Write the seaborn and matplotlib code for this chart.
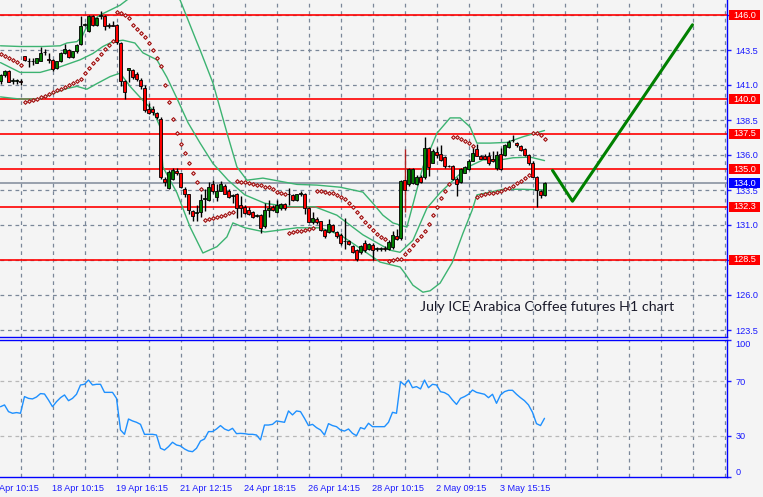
import numpy as np
import pandas as pd
import matplotlib
matplotlib.use('Agg')
import matplotlib.pyplot as plt
import matplotlib.transforms as mtransforms
from matplotlib.patches import Rectangle
import seaborn as sns

# ---- candles (H1 bars) ----
opens = [141.3, 141.75, 142.0, 141.3, 141.3, 141.3, 143.05, 142.7, 142.7, 142.6,
         142.75, 143.35, 142.85, 142.8, 142.2, 142.7, 143.3, 143.5, 143.0, 143.4,
         143.9, 145.3, 144.85, 145.9, 145.3, 145.95, 145.95, 145.2, 145.3, 145.3,
         144.0, 141.3, 142.05, 142.05, 141.8, 141.35, 140.8, 139.3, 139.3, 139.0,
         138.6, 134.3, 133.65, 134.3, 134.85, 134.7, 133.6, 133.2, 132.0, 131.85,
         131.95, 132.85, 132.8, 133.95, 133.0, 133.45, 133.8, 133.45, 133.1, 133.2,
         132.4, 132.3, 132.1, 131.95, 131.65, 131.7, 130.9, 132.1, 132.3, 131.9,
         132.2, 132.5, 133.2, 133.15, 132.8, 133.2, 133.2, 132.2, 131.2, 131.45,
         131.25, 130.65, 130.5, 131.0, 130.5, 130.3, 129.85, 129.85, 129.5, 129.2,
         129.1, 129.7, 129.3, 129.6, 129.3, 129.3, 129.35, 129.3, 129.45, 130.2,
         130.1, 134.2, 133.95, 134.0, 133.95, 134.45, 134.4, 136.5, 135.45, 136.25,
         136.1, 135.85, 135.2, 135.2, 134.3, 134.1, 134.75, 135.0, 135.6, 136.45,
         135.9, 135.9, 135.9, 135.75, 135.05, 136.1, 136.0, 136.55, 137.05, 136.85,
         136.65, 136.4, 136.0, 135.45, 134.45, 133.45, 133.15]
highs = [141.8, 142.1, 142.05, 141.5, 141.4, 141.4, 143.1, 142.95, 142.9, 142.9,
         143.7, 143.55, 143.3, 142.85, 142.75, 143.35, 143.95, 143.6, 143.45, 143.9,
         145.9, 145.45, 146.0, 146.0, 145.85, 146.3, 146.0, 145.4, 145.55, 145.35,
         144.1, 141.35, 142.2, 142.15, 141.9, 141.5, 141.0, 139.75, 139.5, 139.1,
         138.7, 134.4, 134.9, 135.05, 135.1, 134.75, 133.7, 133.25, 132.1, 132.4,
         133.25, 133.6, 134.1, 134.25, 133.9, 134.15, 133.9, 133.6, 133.2, 133.3,
         133.1, 132.4, 132.3, 132.0, 131.8, 131.8, 132.6, 132.8, 132.45, 132.8,
         132.6, 132.55, 133.65, 133.25, 133.25, 133.4, 133.3, 132.3, 131.9, 131.55,
         131.3, 130.7, 131.4, 131.1, 130.6, 130.4, 131.5, 129.95, 129.6, 129.3,
         129.55, 129.9, 129.7, 129.7, 129.45, 129.45, 129.5, 129.9, 130.6, 130.7,
         134.2, 136.45, 135.05, 135.1, 134.55, 134.6, 137.3, 136.6, 136.4, 136.55,
         136.7, 135.95, 135.3, 135.3, 134.4, 135.1, 135.2, 135.7, 136.6, 136.8,
         136.0, 136.05, 136.2, 136.3, 136.3, 136.5, 136.8, 137.1, 137.45, 136.95,
         136.75, 136.5, 136.1, 135.6, 134.5, 133.5, 134.1]
lows = [141.1, 141.6, 141.2, 141.1, 141.05, 141.0, 142.7, 142.3, 142.45, 142.55,
        142.7, 143.15, 142.6, 142.0, 142.15, 142.65, 143.25, 142.95, 142.95, 143.3,
        143.85, 145.2, 144.8, 145.25, 145.25, 145.7, 144.9, 145.1, 145.2, 143.9,
        140.9, 140.0, 141.2, 141.4, 141.3, 140.75, 139.1, 138.95, 138.85, 138.55,
        134.3, 133.8, 133.6, 134.2, 134.6, 133.65, 133.0, 131.8, 131.3, 131.3,
        131.6, 132.0, 132.7, 133.3, 132.7, 133.4, 133.2, 132.95, 132.6, 131.5,
        131.6, 131.8, 131.7, 131.5, 131.55, 130.4, 130.8, 131.6, 132.0, 131.85,
        132.1, 132.1, 132.4, 132.7, 132.75, 133.1, 131.8, 131.2, 131.1, 131.1,
        130.6, 130.1, 130.4, 130.5, 130.1, 129.6, 129.3, 129.6, 129.0, 128.4,
        128.95, 129.1, 129.2, 128.5, 129.15, 129.15, 129.15, 129.2, 129.3, 129.9,
        129.9, 131.9, 133.8, 133.9, 133.85, 134.0, 134.3, 134.5, 135.4, 135.8,
        135.55, 135.1, 135.15, 134.2, 133.1, 134.0, 134.7, 134.95, 135.55, 135.9,
        135.7, 135.7, 135.3, 135.5, 134.9, 134.9, 135.9, 136.5, 136.95, 136.6,
        136.3, 135.9, 135.3, 134.4, 132.3, 132.9, 133.05]
closes = [141.7, 142.0, 141.2, 141.3, 141.3, 141.25, 142.8, 142.7, 142.7, 142.9,
          143.3, 143.35, 142.8, 142.15, 142.7, 143.3, 143.55, 143.0, 143.4, 143.85,
          145.2, 145.3, 145.95, 145.3, 145.8, 146.0, 145.25, 145.3, 145.2, 144.05,
          141.3, 140.5, 142.2, 141.55, 141.45, 140.95, 139.2, 139.0, 139.05, 138.7,
          134.4, 134.1, 134.8, 134.9, 134.75, 133.7, 133.2, 132.1, 131.65, 131.9,
          132.8, 132.9, 133.75, 133.4, 133.45, 133.9, 133.25, 133.0, 133.1, 132.2,
          132.2, 131.85, 131.8, 131.6, 131.7, 130.8, 132.1, 132.2, 132.1, 132.4,
          132.5, 132.2, 133.2, 132.8, 133.2, 133.3, 132.2, 131.25, 131.5, 131.2,
          130.65, 130.2, 131.1, 130.55, 130.2, 129.7, 129.85, 129.65, 129.1, 128.6,
          129.5, 129.2, 129.65, 129.2, 129.3, 129.35, 129.3, 129.8, 130.3, 130.0,
          134.15, 133.5, 135.0, 135.0, 134.45, 134.1, 136.5, 135.15, 136.3, 136.0,
          135.65, 135.2, 135.2, 134.3, 133.9, 135.0, 135.15, 135.6, 136.15, 135.95,
          135.75, 135.75, 135.45, 135.55, 136.0, 135.0, 136.7, 136.9, 137.1, 136.75,
          136.35, 136.0, 135.45, 134.45, 133.5, 133.15, 134.0]

# ---- parabolic SAR dots ----
sar = [143.19, 143.07, 142.91, 142.76, 142.62, 142.43,
       139.76, 139.86, 139.95, 140.02, 140.12, 140.24, 140.36, 140.48, 140.62, 140.71,
       140.84, 140.98, 141.12, 141.29, 141.45, 141.84, 142.19, 142.55, 142.88, 143.21,
       143.55, 143.88, 144.16,
       146.24, 146.16, 145.98, 145.76, 145.26, 144.98, 144.69, 144.41, 143.98, 143.5,
       142.91, 142.36, 141.0, 139.81, 138.55, 137.55, 136.79, 136.12, 135.41, 134.74,
       134.05, 133.55,
       131.38, 131.41, 131.48, 131.55, 131.64, 131.71, 131.84, 131.95,
       134.14, 134.09, 134.05, 133.98, 133.93, 133.88, 133.84, 133.74, 133.69, 133.55,
       133.38, 133.26, 133.19,
       130.45, 130.52, 130.57, 130.59, 130.64, 130.71, 130.81,
       133.45, 133.43, 133.38, 133.31, 133.26, 133.16, 133.02, 132.84, 132.59, 132.31,
       131.95, 131.59, 131.24, 130.95, 130.64, 130.36, 130.12, 129.98,
       128.45, 128.5, 128.55, 128.6, 128.9, 129.2, 129.55, 129.9, 130.25, 130.6,
       131.1, 131.7, 132.3, 132.9, 133.45, 133.9,
       137.31, 137.26, 137.14, 136.98, 136.84, 136.64,
       133.02, 133.14, 133.19, 133.26, 133.31, 133.38, 133.45, 133.55, 133.62, 133.79,
       134.02, 134.16, 134.34, 134.57,
       137.59, 137.55, 137.43, 137.12]

# ---- Bollinger bands, sampled along the chart ----
up_bars = [0, 4.9, 10.6, 14.9, 16.6, 19.1, 20.4, 21.1, 22.4, 24.9, 27.4, 29.9, 31.6,
           35, 40, 43, 44.9, 48.9, 49.9, 53.1, 56.6, 59.1, 61.6, 65.6, 74.1, 79.1,
           84.9, 90.6, 93.1, 95.6, 98.1, 101.6, 105.6, 109.1, 112.4, 114.9, 117.4,
           119.1, 122.4, 126.6, 130.6, 136]
up_vals = [143.8, 143.75, 143.75, 143.8, 144.0, 144.1, 144.45, 144.9, 145.5, 146.0,
           146.35, 146.7, 147.07, 147.8, 148.2, 147.6, 147.07, 144.2, 143.5, 141.15,
           137.6, 135.15, 134.2, 134.35, 133.9, 133.85, 133.7, 133.35, 132.55, 131.7,
           131.15, 130.85, 135.15, 137.55, 138.65, 138.65, 138.0, 136.85, 136.85,
           136.9, 137.3, 137.75]
mid_bars = [0, 4.9, 9.9, 14.9, 19.9, 23.1, 25.6, 28.1, 30.6, 33.6, 35.6, 39.1, 41.6,
            44.1, 46.9, 49.9, 53.1, 56.9, 61.1, 66.1, 72.4, 78.6, 84.1, 90.6, 97.4,
            99.9, 103.1, 106.6, 109.9, 114.1, 116.9, 120.6, 124.9, 128.1, 132.4, 136]
mid_vals = [142.6, 141.9, 141.9, 142.3, 142.8, 143.25, 143.75, 144.1, 144.2, 144.0,
            143.3, 142.8, 141.55, 140.05, 138.3, 136.85, 135.4, 134.2, 133.15, 132.55,
            132.3, 132.3, 131.7, 130.3, 129.2, 129.05, 129.9, 132.2, 133.3, 134.45,
            135.15, 135.65, 135.65, 135.8, 135.85, 135.6]
lo_bars = [0, 3.1, 4.9, 9.9, 13.1, 16.6, 19.1, 21.6, 24.1, 27.4, 29.9, 32.4, 35.6,
           38.1, 39.9, 40.6, 44.1, 47.4, 50.6, 54.1, 56.6, 58.1, 61.1, 66.1, 74.1,
           79.9, 84.9, 90.6, 94.9, 99.9, 101.1, 103.1, 105.6, 107.4, 109.9, 112.9,
           115.6, 117.9, 119.1, 122.4, 125.6, 130.6, 136]
lo_vals = [140.15, 140.05, 140.0, 140.0, 140.4, 140.75, 140.9, 140.7, 141.1, 141.6,
           141.85, 140.9, 139.9, 139.2, 138.0, 135.15, 133.3, 130.85, 129.0, 129.45,
           130.15, 131.15, 130.8, 130.5, 130.8, 130.8, 130.3, 129.2, 128.35, 128.0,
           127.55, 126.7, 126.2, 126.3, 126.85, 128.3, 130.4, 132.05, 133.15, 133.35,
           133.55, 133.55, 133.5]

# ---- RSI ----
rsi = [51.2, 52.5, 47.6, 46.4, 46.9, 46.4, 58.6, 57.3, 56.9, 58.3,
       60.8, 60.5, 56.1, 51.2, 54.9, 57.8, 59.8, 55.6, 57.3, 60.3,
       67.1, 67.6, 70.7, 67.1, 67.6, 67.6, 61.7, 61.7, 61.7, 57.3,
       34.2, 31.0, 42.2, 40.8, 39.8, 38.3, 31.0, 31.0, 31.0, 30.5,
       20.8, 19.5, 22.0, 25.2, 23.2, 22.5, 20.3, 18.8, 18.3, 20.8,
       26.1, 27.6, 33.0, 33.0, 34.9, 37.4, 34.9, 33.7, 35.4, 31.5,
       31.7, 31.5, 31.0, 31.0, 30.5, 26.9, 37.8, 37.8, 38.3, 40.8,
       40.3, 39.8, 48.1, 45.2, 48.1, 47.6, 42.7, 37.4, 38.3, 35.9,
       34.2, 30.5, 38.8, 37.4, 36.6, 34.2, 33.4, 34.9, 31.7, 30.0,
       35.9, 34.9, 39.1, 36.6, 36.6, 36.6, 36.6, 39.8, 47.1, 46.4,
       69.5, 67.1, 70.7, 65.1, 65.9, 64.2, 70.7, 65.1, 67.6, 67.1,
       62.2, 61.5, 59.8, 56.1, 52.9, 57.3, 58.6, 60.3, 63.4, 61.7,
       61.0, 60.3, 57.8, 60.3, 53.7, 59.8, 62.2, 63.2, 63.2, 60.3,
       57.8, 55.6, 52.5, 47.1, 38.8, 37.4, 42.7]

# ---- levels, forecast path, axis text ----
red_levels = [146.0, 140.0, 137.5, 135.0, 132.3, 128.5]
last_price = 134.0
price_ticks = [123.5, 126.0, 128.5, 131.0, 133.5, 136.0, 138.5, 141.0, 143.5, 146.0]
forecast_bars = [138, 143, 173]
forecast_prices = [134.9, 132.7, 145.3]
date_ticks = [13, 29, 45, 61, 77, 93, 109, 125]
date_labels = ['18 Apr 10:15', '19 Apr 16:15', '21 Apr 12:15', '24 Apr 18:15',
               '26 Apr 14:15', '28 Apr 10:15', '2 May 09:15', '3 May 15:15']
first_label = 'Apr 10:15'
title_text = 'July ICE Arabica Coffee futures H1 chart'

df = pd.DataFrame({'open': opens, 'high': highs, 'low': lows, 'close': closes,
                   'sar': sar, 'rsi': rsi})
df['bar'] = np.arange(len(df))

sns.set_style('white')
plt.rcParams['font.family'] = ['Liberation Sans', 'DejaVu Sans']

BG = '#f4f4f4'
AXBLUE = '#1a1aff'
GRID = '#7a8799'
W, H = 763, 497
fig = plt.figure(figsize=(W / 100, H / 100), dpi=100, facecolor=BG)
ax = fig.add_axes([0, 1 - 337 / H, 727 / W, 337 / H], facecolor=BG)
ax2 = fig.add_axes([0, (H - 476.7) / H, 727 / W, (476.7 - 340) / H], facecolor=BG)

xmax = (727 - 0.5) / 4
for a in (ax, ax2):
    a.set_xlim(-0.125, xmax)
    for g in np.arange(5, xmax, 8):
        a.axvline(g, color=GRID, lw=0.9, ls=(0, (3, 3)), zorder=0)
    a.spines['left'].set_visible(False)
    for s in ('right', 'bottom', 'top'):
        a.spines[s].set_color('#0000ff')
        a.spines[s].set_linewidth(1)
ax.spines['top'].set_visible(False)

# main price panel
ax.set_ylim(123.0, 146 + 15 / 14)
for p in price_ticks:
    ax.axhline(p, color=GRID, lw=0.9, ls=(0, (3, 3)), zorder=0)
for p in red_levels:
    ax.axhline(p, color='#ff0000', lw=1.2, zorder=1)
ax.axhline(last_price, color='#7f8a99', lw=1.1, zorder=1)

# Bollinger bands
for bx, by in ((up_bars, up_vals), (mid_bars, mid_vals), (lo_bars, lo_vals)):
    sns.lineplot(x=bx, y=by, ax=ax, color='#3cb371', lw=1, zorder=2, sort=False)

# candles
up = df['close'] >= df['open']
wick_col = ['black'] * len(df)
wick_col[101] = '#b02020'
ax.vlines(df['bar'], df['low'], df['high'], colors=wick_col, lw=1, zorder=3)
body_h = (df['close'] - df['open']).abs().clip(lower=0.04)
ax.bar(df['bar'], body_h, bottom=df[['open', 'close']].min(axis=1), width=0.72,
       color=np.where(up, '#008000', '#ff0000'), edgecolor='black', lw=0.6, zorder=4)

# SAR
sns.scatterplot(data=df, x='bar', y='sar', ax=ax, marker='D', s=3.5, color='#fbe0e0',
                edgecolor='#a01010', linewidth=0.8, zorder=5)

# forecast path
ax.plot(forecast_bars, forecast_prices, color='#008000', lw=2.2, zorder=5)

ax.text(420 / 727, 1 - 307 / 337, title_text, transform=ax.transAxes, va='center',
        ha='left', fontsize=10.3, family='Lato', color='#1a1a2a')

ax.set_xticks([])
ax.yaxis.tick_right()
ax.set_yticks(price_ticks)
# labels under a coloured level box are hidden in the original
ax.set_yticklabels(['' if p in red_levels else f'{p:.1f}' for p in price_ticks])
ax.tick_params(axis='y', colors=AXBLUE, labelsize=6.6, length=3, width=1, pad=3)
ax.set_xlabel('')
ax.set_ylabel('')

trans = mtransforms.blended_transform_factory(ax.transAxes, ax.transData)
for p, fc in [(p, '#ff0000') for p in red_levels] + [(last_price, '#0000ff')]:
    ax.add_patch(Rectangle((729 / 727, p - 0.36), 31 / 727, 0.72, transform=trans,
                           facecolor=fc, edgecolor='none', clip_on=False, zorder=10))
    ax.text(744.5 / 727, p, f'{p:.1f}', transform=trans, ha='center', va='center',
            color='white', fontsize=6.6, clip_on=False, zorder=11)

# RSI panel
ax2.set_ylim(0, 100)
for lvl in (30, 70):
    ax2.axhline(lvl, color='#b8b8b8', lw=0.9, ls=(0, (3, 3)), zorder=0)
sns.lineplot(data=df, x='bar', y='rsi', ax=ax2, color='#1e90ff', lw=1, zorder=3)
ax2.yaxis.tick_right()
ax2.set_yticks([0, 30, 70, 100])
ax2.set_yticklabels(['0', '30', '70', '100'])
ax2.tick_params(axis='y', colors=AXBLUE, labelsize=6.6, length=3, width=1, pad=3)
labs = ax2.get_yticklabels()
labs[0].set_va('bottom')
labs[3].set_va('top')
ax2.set_xticks(date_ticks)
ax2.set_xticklabels(date_labels)
for t in ax2.get_xticklabels():
    t.set_ha('left')
ax2.tick_params(axis='x', colors=AXBLUE, labelsize=6.6, length=3, width=1, pad=2)
ax2.text(-0.3, -0.0505, first_label, transform=mtransforms.blended_transform_factory(
    ax2.transData, ax2.transAxes), ha='left', va='top', fontsize=6.6, color=AXBLUE)
ax2.set_xlabel('')
ax2.set_ylabel('')

fig.savefig('out.png', dpi=100, facecolor=BG)
